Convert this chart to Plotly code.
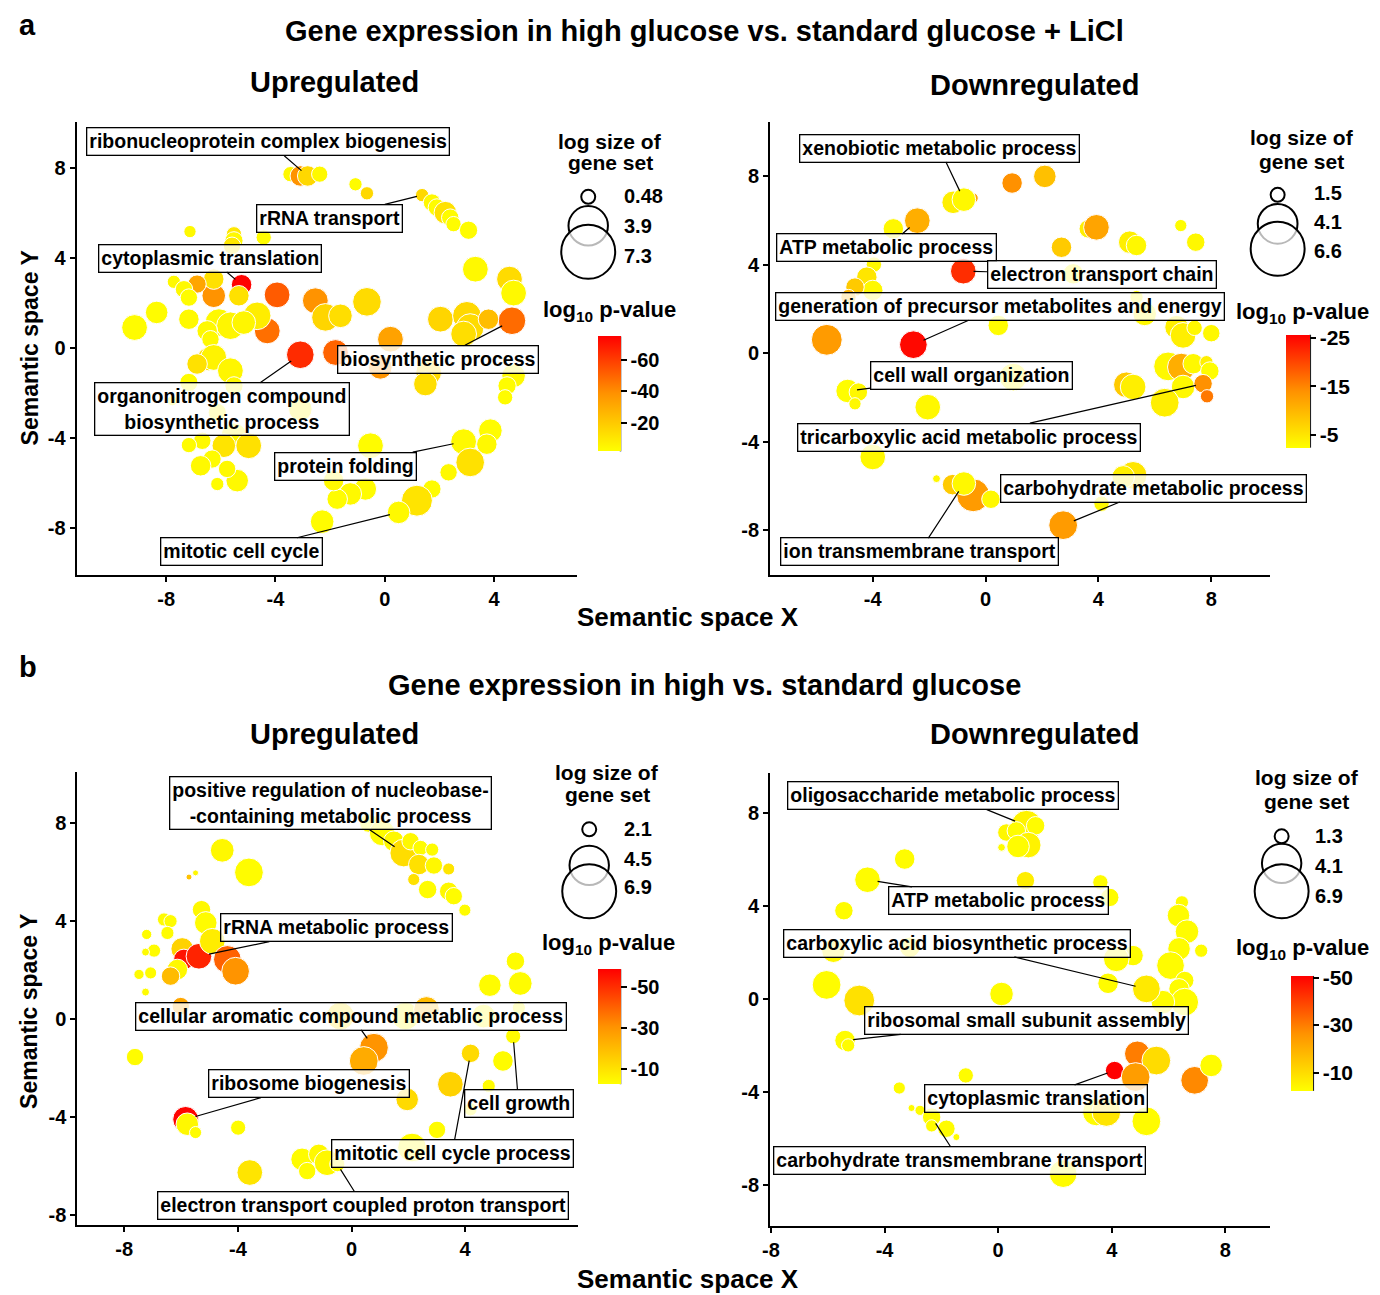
import math
import plotly.graph_objects as go

W, H = 1380, 1295
# observed page placement of the figure inside the photographed window
CX0, CXS = 15.3, 0.995   # horizontal offset / scale
OY = 8                   # vertical offset (body margin)
FW, FH = 1372, 1287
FONT = "Liberation Sans, Arial, Helvetica, sans-serif"

# ---------------- DATA ----------------
# Panel a, Upregulated
aU_x = [-3.45, -3.09, -2.82, -2.38, -1.07, -0.65, 1.37, 1.73, 1.91, 2.22,
        2.4, 2.52, 3.07, -7.13, -5.52, -5.52, -5.59, -4.43, 3.32, 4.57,
        4.72, 4.66, -0.65, -2.54, -2.17, -1.62, -3.94, -4.3, -4.67, -5.24,
        -5.34, -6.26, -6.26, -6.87, -7.72, -7.35, -7.17, -6.07, -5.65, -6.5,
        -7.17, -6.38, -5.16, -8.35, -9.16, -3.09, -1.8, 0.21, -0.16, 2.04,
        3.01, 3.13, 2.89, 3.8, 1.61, 1.49, 4.72, 4.48, 4.41, -6.44,
        -6.26, -6.87, -5.65, -5.52, -7.17, -7.78, -3.09, -6.13, -5.52, -4.98,
        -5.89, -6.68, -7.17, -6.32, -6.74, -5.4, -6.13, -5.77, -0.52, -0.71,
        -1.26, -1.74, -1.87, 3.87, 3.74, 2.89, 3.13, 2.34, 1.73, 1.18,
        0.51, -2.29]
aU_y = [7.71, 7.63, 7.63, 7.71, 7.26, 6.86, 6.78, 6.45, 6.23, 6.0,
        5.78, 5.49, 5.22, 5.16, 5.04, 4.75, 4.53, 4.9, 3.49, 3.05,
        2.43, 1.2, 2.04, 2.09, 1.35, 1.42, 2.35, 0.75, 1.42, 2.8,
        2.31, 2.31, 3.05, 2.83, 2.93, 2.6, 2.23, 1.12, 0.98, 0.75,
        1.27, 0.38, 1.12, 1.57, 0.9, -0.31, -0.21, 0.38, -0.87, 1.27,
        1.42, 0.9, 0.61, 1.27, -1.09, -1.61, -1.24, -1.69, -2.2, -0.5,
        -0.43, -0.72, -1.02, -1.69, -1.54, -2.35, -2.72, -2.87, -3.91, -4.35,
        -4.35, -4.13, -4.32, -4.94, -5.24, -5.9, -6.05, -5.38, -4.35, -6.27,
        -6.49, -6.72, -5.9, -3.68, -4.28, -4.17, -5.09, -5.53, -6.27, -6.79,
        -7.31, -7.72]
aU_size = [1.5, 2.45, 2.45, 1.65, 1.2, 1.2, 1.2, 1.85, 1.85, 2.9,
           1.85, 1.5, 2.0, 1.07, 1.5, 2.0, 1.85, 1.5, 3.7, 3.7,
           3.7, 4.2, 4.5, 3.7, 4.2, 3.15, 3.7, 3.7, 4.2, 2.45,
           2.45, 3.15, 2.45, 2.0, 1.2, 1.85, 1.85, 4.2, 4.2, 2.45,
           2.45, 1.85, 3.15, 2.9, 3.7, 4.2, 3.7, 3.7, 3.15, 3.7,
           4.5, 4.2, 3.7, 2.45, 3.7, 3.15, 3.15, 2.0, 1.5, 3.15,
           3.7, 2.45, 3.7, 2.0, 2.0, 0.83, 3.15, 2.0, 3.7, 3.7,
           3.15, 1.85, 1.5, 2.0, 2.45, 2.9, 1.2, 1.85, 3.7, 2.9,
           2.9, 2.45, 2.45, 3.15, 2.45, 3.7, 4.5, 1.85, 2.0, 5.2,
           2.9, 3.15]
aU_logp = [-4, -38, -15, -4, -3, -15, -15, -4, -3, -12,
           -3, -3, -3, -4, -10, -4, -10, -3, -4, -14,
           -4, -48, -14, -38, -16, -13, -52, -47, -8, -74,
           -12, -38, -12, -32, -4, -4, -3, -4, -5, -4,
           -4, -4, -5, -3, -3, -64, -50, -33, -38, -16,
           -15, -14, -13, -24, -14, -13, -4, -3, -3, -13,
           -6, -12, -5, -4, -3, -3, -5, -4, -4, -12,
           -11, -4, -3, -3, -4, -4, -3, -4, -3, -3,
           -4, -3, -4, -3, -4, -4, -12, -4, -3, -11,
           -4, -3]
aU_terms = ["ribonucleoprotein complex biogenesis", "rRNA transport",
            "cytoplasmic translation", "organonitrogen compound<br>biosynthetic process",
            "biosynthetic process", "protein folding", "mitotic cell cycle"]
aU_term_idx = [2, 6, 29, 45, 21, 85, 90]
aU_xticks = [-8, -4, 0, 4]
aU_size_breaks = [0.48, 3.9, 7.3]
aU_cbar_ticks = [-20, -40, -60]

# Panel a, Downregulated
aD_x = [0.94, 2.1, -1.15, -0.44, -0.77, -2.42, -3.27, 3.64, 3.93, 6.92,
        7.45, 5.11, 5.35, 2.69, -0.79, 3.11, -3.96, -4.21, -4.0, -4.63,
        -4.86, 5.35, 5.64, -5.63, -2.56, 0.45, 6.77, 7.0, 7.41, 8.0,
        6.47, 6.94, 7.36, 7.83, 7.95, 0.98, -4.89, -4.51, -4.63, 4.99,
        5.23, 7.0, 7.71, 7.85, 6.35, -2.05, -4.0, -1.74, -1.17, -0.44,
        -0.77, 0.19, 2.75, 5.23, 4.88, 4.11]
aD_y = [7.68, 7.98, 6.81, 7.0, 6.93, 5.98, 5.61, 5.61, 5.68, 5.76,
        5.01, 5.01, 4.86, 4.78, 3.7, 3.58, 4.0, 3.43, 2.83, 2.98,
        2.53, 2.53, 1.77, 0.6, 0.38, 1.25, 1.17, 0.8, 1.14, 0.9,
        -0.6, -0.63, -0.48, -0.41, -0.81, -1.08, -1.71, -1.76, -2.29, -1.43,
        -1.53, -1.53, -1.38, -1.95, -2.24, -2.44, -4.69, -5.67, -5.94, -6.42,
        -5.89, -6.6, -7.77, -5.52, -5.59, -6.8]
aD_size = [2.97, 3.31, 3.31, 1.76, 3.49, 3.88, 2.97, 2.67, 3.88, 1.94,
           2.67, 3.31, 2.97, 2.97, 3.88, 2.97, 2.27, 2.97, 2.97, 2.67,
           2.27, 2.04, 3.49, 5.0, 4.3, 2.97, 3.49, 3.88, 2.27, 2.53,
           4.53, 4.3, 2.97, 2.04, 2.67, 4.3, 3.49, 2.67, 1.94, 3.88,
           3.88, 3.49, 2.67, 2.04, 4.53, 3.88, 3.88, 1.6, 2.97, 5.5,
           3.49, 2.67, 4.53, 4.3, 3.31, 2.27]
aD_logp = [-14, -9, -4, -12, -3, -11, -3, -4, -12, -2.5,
           -3, -4, -3, -8, -22, -3, -3, -5, -3, -8,
           -10, -3, -3, -13, -25, -2.5, -4, -4, -3, -3,
           -3, -11, -3, -4, -2.5, -3, -2.5, -3, -3, -8,
           -4, -3, -14, -16, -4, -3, -3, -3, -8, -13,
           -3, -3, -13, -5, -4, -3]
aD_terms = ["xenobiotic metabolic process", "ATP metabolic process",
            "electron transport chain", "generation of precursor metabolites and energy",
            "cell wall organization", "tricarboxylic acid metabolic process",
            "carbohydrate metabolic process", "ion transmembrane transport"]
aD_term_idx = [4, 5, 14, 24, 36, 42, 52, 50]
aD_xticks = [-4, 0, 4, 8]
aD_size_breaks = [1.5, 4.1, 6.6]
aD_cbar_ticks = [-5, -15, -25]

# Panel b, Upregulated
bU_x = [0.61, 1.08, 1.49, 1.84, 2.08, 2.43, 2.84, 2.37, 2.9, 2.19,
        3.42, 2.68, 3.42, 3.6, 3.99, -4.55, -3.61, -5.72, -5.49, -5.28,
        -5.13, -6.6, -6.37, -6.48, -7.21, -6.95, -7.25, -5.96, -5.9, -5.37,
        -4.9, -4.37, -4.08, -6.13, -6.37, -7.07, -7.48, -7.25, -6.01, -7.62,
        0.79, 0.43, -0.39, 1.9, 2.64, 5.77, 4.87, 5.94, 4.65, 5.89,
        5.69, 4.19, 5.33, 3.48, 4.83, 1.96, 4.19, 3.01, 2.13, -5.84,
        -5.78, -5.49, -3.99, -1.74, -1.56, -1.15, -0.86, -0.5, -3.58]
bU_y = [7.98, 7.58, 7.24, 6.76, 7.24, 6.97, 6.9, 6.29, 6.25, 5.68,
        6.11, 5.27, 5.2, 5.0, 4.43, 6.87, 5.97, 5.78, 5.95, 4.45,
        3.91, 4.05, 3.98, 3.5, 3.44, 2.78, 2.72, 2.85, 2.42, 2.55,
        3.16, 2.42, 1.94, 2.01, 1.74, 1.87, 1.81, 1.09, 0.52, -1.56,
        -1.18, -1.72, 0.11, 0.11, 0.38, 2.35, 1.37, 1.44, 0.11, 0.45,
        -0.71, -1.41, -1.72, -2.67, -2.74, -3.29, -3.69, -4.53, -5.25, -4.1,
        -4.3, -4.64, -4.44, -5.73, -6.21, -5.53, -5.87, -5.93, -6.27]
bU_size = [3.2, 4.35, 3.5, 4.74, 3.06, 2.8, 2.6, 3.5, 3.06, 2.5,
           2.5, 3.2, 3.2, 3.06, 2.5, 4.0, 4.95, 2.1, 2.1, 3.2,
           3.8, 2.6, 2.6, 2.6, 2.35, 2.6, 2.2, 3.8, 3.5, 4.35,
           4.35, 4.74, 4.74, 3.5, 3.2, 2.5, 2.35, 2.2, 3.06, 3.06,
           4.95, 4.95, 4.74, 4.74, 4.35, 3.2, 3.8, 4.0, 4.0, 2.6,
           2.8, 3.2, 3.5, 4.35, 2.6, 3.8, 2.6, 3.06, 4.95, 4.35,
           3.8, 2.5, 2.8, 3.8, 3.06, 3.5, 4.35, 2.8, 4.35]
bU_logp = [-3, -3, -4, -11, -4, -3, -3, -10, -4, -10,
           -9, -3, -4, -3, -3, -4, -3, -18, -4, -4,
           -3, -3, -3, -3, -3, -3, -3, -14, -55, -52,
           -7, -40, -30, -4, -20, -3, -3, -3, -25, -3,
           -30, -24, -10, -4, -20, -3, -3, -3, -3, -3,
           -3, -12, -3, -14, -3, -12, -3, -3, -3, -58,
           -4, -3, -3, -3, -3, -4, -4, -3, -9]
bU_terms = ["positive regulation of nucleobase-<br>-containing metabolic process",
            "rRNA metabolic process", "cellular aromatic compound metablic process",
            "ribosome biogenesis", "cell growth", "mitotic cell cycle process",
            "electron transport coupled proton transport"]
bU_term_idx = [3, 29, 40, 59, 50, 51, 67]
bU_xticks = [-8, -4, 0, 4, 8]
bU_size_breaks = [2.1, 4.5, 6.9]
bU_cbar_ticks = [-10, -30, -50]

# Panel b, Downregulated
bD_x = [1.0, 1.32, 0.29, 0.64, 1.06, 0.7, 0.12, -3.29, -4.6, 0.96,
        3.6, 3.93, -5.43, 6.47, 6.35, 6.65, 7.15, 6.37, 6.07, 6.57,
        6.37, 6.57, 5.8, 5.22, 4.75, 4.16, 3.87, -5.8, -3.11, -6.04,
        -4.89, 0.12, -5.39, -5.28, 4.9, 5.57, 4.1, 4.84, 6.92, 7.5,
        -1.14, -3.48, 3.46, 3.81, 5.22, -2.75, -3.05, -2.34, -2.34, -1.82,
        -1.47, 2.29]
bD_y = [7.44, 7.44, 7.15, 7.22, 6.61, 6.55, 6.51, 6.01, 5.12, 5.08,
        5.01, 4.36, 3.79, 4.15, 3.58, 2.89, 2.07, 2.15, 1.43, 0.79,
        0.43, -0.14, -0.14, 0.43, 1.86, 1.72, 0.67, 2.07, 2.22, 0.6,
        -0.07, 0.21, -1.79, -2.0, -2.36, -2.65, -3.08, -3.36, -3.5, -2.86,
        -3.29, -3.83, -4.86, -4.86, -5.26, -4.79, -4.69, -5.08, -5.46, -5.58,
        -5.94, -7.51]
bD_size = [5.14, 2.58, 2.43, 2.58, 3.9, 3.29, 1.4, 2.92, 3.9, 2.58,
           2.14, 2.58, 2.58, 1.89, 3.29, 3.49, 1.89, 3.29, 4.38, 2.58,
           2.92, 4.38, 3.49, 4.38, 2.92, 3.9, 2.92, 3.49, 2.92, 4.63,
           5.14, 3.49, 2.92, 1.89, 3.9, 4.63, 2.58, 4.63, 4.38, 3.29,
           2.14, 1.78, 4.38, 4.63, 4.63, 1.59, 1.36, 2.58, 1.78, 2.43,
           1.36, 4.38]
bD_logp = [-5, -3, -4, -3, -5, -3, -3, -3, -3, -6,
           -3, -3, -3, -3, -3, -3, -3, -3, -3, -3,
           -3, -3, -3, -7, -3, -3, -3, -4, -4, -3,
           -9, -3, -3, -3, -30, -10, -52, -24, -28, -3,
           -3, -3, -3, -8, -3, -3, -3, -3, -3, -3,
           -3, -3]
bD_terms = ["oligosaccharide metabolic process", "ATP metabolic process",
            "carboxylic acid biosynthetic process", "ribosomal small subunit assembly",
            "cytoplasmic translation", "carbohydrate transmembrane transport"]
bD_term_idx = [0, 8, 23, 32, 36, 47]
bD_xticks = [-8, -4, 0, 4, 8]
bD_size_breaks = [1.3, 4.1, 6.9]
bD_cbar_ticks = [-10, -30, -50]

y_ticks = [-8, -4, 0, 4, 8]

# ---------------- LAYOUT / STYLE ----------------
def PX(x):
    return ((x - CX0) / CXS) / FW


def PY(y):
    return 1 - (y - OY) / FH


def diam(v, vmin, vmax, dmin=6.0, dmax=37.0):
    t = (v - vmin) / (vmax - vmin)
    t = min(max(t, 0.0), 1.0)
    return math.sqrt(dmin ** 2 + t * (dmax ** 2 - dmin ** 2))


COLORSCALE = [[0.0, "#FFFF00"], [0.5, "#FF9200"], [1.0, "#FF0000"]]

PANELS = [
    dict(s="", x=aU_x, y=aU_y, size=aU_size, logp=aU_logp, terms=aU_terms, idx=aU_term_idx,
         lab=[(-4.27, 9.14), (-2.02, 5.75), (-6.38, 3.98), (-5.95, -2.72), (1.96, -0.5),
              (-1.44, -5.25), (-5.25, -9.05)],
         dx=(76, 577), dy=(122, 575), xr=(-11.28, 7.05), yr=(-10.07, 10.03), xt=aU_xticks,
         breaks=aU_size_breaks, cb_ticks=aU_cbar_ticks, crange=(2.06, 74.7),
         cb=(597.3, 23, 336.7, 115), cb_font=20, cb_title=(609, 311),
         leg_title=(610, 142, 163), leg_cx=588, leg_cy=[197, 226, 252], leg_lx=622,
         leg_ly=[196, 226, 256]),
    dict(s="2", x=aD_x, y=aD_y, size=aD_size, logp=aD_logp, terms=aD_terms, idx=aD_term_idx,
         lab=[(-1.64, 9.25), (-3.51, 4.75), (4.11, 3.55), (0.51, 2.11), (-0.5, -1.01),
              (-0.58, -3.79), (5.96, -6.1), (-2.35, -8.98)],
         dx=(770, 1270), dy=(122, 575), xr=(-7.64, 10.07), yr=(-10.0, 10.44), xt=aD_xticks,
         breaks=aD_size_breaks, cb_ticks=aD_cbar_ticks, crange=(2.3, 25.6),
         cb=(1286.7, 24, 335, 113), cb_font=21, cb_title=(1303, 313),
         leg_title=(1302, 138, 162), leg_cx=1278, leg_cy=[195, 224, 249], leg_lx=1312,
         leg_ly=[193, 222, 251]),
    dict(s="3", x=bU_x, y=bU_y, size=bU_size, logp=bU_logp, terms=bU_terms, idx=bU_term_idx,
         lab=[(-0.74, 8.79), (-0.54, 3.71), (-0.01, 0.11), (-1.5, -2.65), (5.88, -3.46),
              (3.54, -5.49), (0.4, -7.6)],
         dx=(76.7, 578), dy=(772.7, 1225.7), xr=(-9.65, 7.98), yr=(-8.4, 10.06), xt=bU_xticks,
         breaks=bU_size_breaks, cb_ticks=bU_cbar_ticks, crange=(2.3, 58.7),
         cb=(597.3, 23, 970, 115), cb_font=20, cb_title=(608, 945),
         leg_title=(607, 773, 795), leg_cx=589, leg_cy=[830, 866, 892], leg_lx=622,
         leg_ly=[830, 860, 888]),
    dict(s="4", x=bD_x, y=bD_y, size=bD_size, logp=bD_logp, terms=bD_terms, idx=bD_term_idx,
         lab=[(-1.6, 8.73), (0.02, 4.22), (-1.44, 2.4), (1.0, -0.93), (1.33, -4.29),
              (-1.37, -6.94)],
         dx=(770, 1270), dy=(773.3, 1226.7), xr=(-8.03, 9.56), yr=(-9.75, 9.72), xt=bD_xticks,
         breaks=bD_size_breaks, cb_ticks=bD_cbar_ticks, crange=(2.25, 50.7),
         cb=(1291.7, 22, 976.7, 115), cb_font=21, cb_title=(1303, 950),
         leg_title=(1307, 778, 802), leg_cx=1282, leg_cy=[837, 864, 892], leg_lx=1313,
         leg_ly=[837, 867, 897]),
]

fig = go.Figure()
annotations = []
shapes = []
layout_axes = {}


def bold(size):
    return dict(family=FONT, size=size, color="black", weight="bold")


for p in PANELS:
    s = p["s"]
    xa, ya = "x" + s, "y" + s
    vmin, vmax = p["breaks"][0], p["breaks"][-1]
    diams = [diam(v, vmin, vmax) for v in p["size"]]
    cvals = [-v for v in p["logp"]]
    cbx, cbw, cbtop, cblen = p["cb"]
    fig.add_trace(go.Scatter(
        x=p["x"], y=p["y"], mode="markers", xaxis=xa, yaxis=ya,
        hoverinfo="skip",
        marker=dict(size=diams, color=cvals, colorscale=COLORSCALE,
                    cmin=p["crange"][0], cmax=p["crange"][1], opacity=1,
                    line=dict(color="white", width=1),
                    showscale=True,
                    colorbar=dict(x=PX(cbx), xanchor="left", xref="paper",
                                  y=PY(cbtop), yanchor="top", yref="paper",
                                  len=cblen, lenmode="pixels",
                                  thickness=cbw, thicknessmode="pixels",
                                  xpad=0, ypad=0, outlinewidth=0,
                                  tickvals=[-t for t in p["cb_ticks"]],
                                  ticktext=[str(t) for t in p["cb_ticks"]],
                                  ticks="outside", ticklen=6, tickwidth=1.5,
                                  tickcolor="black",
                                  tickfont=bold(p["cb_font"]))),
    ))
    shapes.append(dict(type="line", xref="paper", yref="paper",
                       x0=PX(cbx + cbw), x1=PX(cbx + cbw),
                       y0=PY(cbtop), y1=PY(cbtop + cblen),
                       line=dict(color="#222222", width=1.5)))
    annotations.append(dict(xref="paper", yref="paper", x=PX(p["cb_title"][0]),
                            y=PY(p["cb_title"][1]), xanchor="center", yanchor="middle",
                            text="log<sub>10</sub> p-value", showarrow=False,
                            font=bold(22)))
    lt = p["leg_title"]
    annotations.append(dict(xref="paper", yref="paper", x=PX(lt[0]), y=PY(lt[1]),
                            text="log size of", showarrow=False, xanchor="center",
                            yanchor="middle", font=bold(21)))
    annotations.append(dict(xref="paper", yref="paper", x=PX(lt[0]), y=PY(lt[2]),
                            text="gene set", showarrow=False, xanchor="center",
                            yanchor="middle", font=bold(21)))
    for k, (bv, cy, ly) in enumerate(zip(p["breaks"], p["leg_cy"], p["leg_ly"])):
        r = diam(bv, vmin, vmax, 14.0, 54.0) / 2
        cx = p["leg_cx"]
        fill = "rgba(255,255,255,0.72)" if k == 2 else "rgba(255,255,255,0)"
        shapes.append(dict(type="circle", xref="paper", yref="paper",
                           x0=PX(cx - r), x1=PX(cx + r), y0=PY(cy + r), y1=PY(cy - r),
                           line=dict(color="black", width=2), fillcolor=fill))
        annotations.append(dict(xref="paper", yref="paper", x=PX(p["leg_lx"]), y=PY(ly),
                                text=str(bv), showarrow=False, xanchor="left",
                                yanchor="middle", font=bold(20)))
    for term, i, (lx, ly) in zip(p["terms"], p["idx"], p["lab"]):
        annotations.append(dict(
            xref=xa, yref=ya, axref=xa, ayref=ya,
            x=p["x"][i], y=p["y"][i], ax=lx, ay=ly,
            text=term, showarrow=True, arrowhead=0, arrowwidth=1.2,
            arrowcolor="black", standoff=diams[i] * 0.4,
            bordercolor="black", borderwidth=1.3, borderpad=2,
            bgcolor="rgba(255,255,255,0.78)", font=bold(19.5), align="center"))
    axis_common = dict(showline=True, linecolor="black", linewidth=2, ticks="outside",
                       ticklen=5, tickwidth=1.5, tickcolor="black", showgrid=False,
                       zeroline=False, tickfont=bold(20), fixedrange=True)
    layout_axes["xaxis" + s] = dict(axis_common, domain=[PX(p["dx"][0]), PX(p["dx"][1])],
                                    range=list(p["xr"]), anchor=ya,
                                    tickvals=p["xt"], ticktext=[str(t) for t in p["xt"]])
    layout_axes["yaxis" + s] = dict(axis_common, domain=[PY(p["dy"][1]), PY(p["dy"][0])],
                                    range=list(p["yr"]), anchor=xa,
                                    tickvals=y_ticks, ticktext=[str(t) for t in y_ticks])

TITLES = [
    ("Gene expression in high glucose vs. standard glucose + LiCl", 704, 31, 29),
    ("Upregulated", 334, 82, 29),
    ("Downregulated", 1035, 85, 29),
    ("Semantic space X", 688, 617, 26),
    ("b", 27, 668, 29),
    ("Gene expression in high vs. standard glucose", 704, 686, 29),
    ("Upregulated", 334, 735, 29),
    ("Downregulated", 1035, 735, 29),
    ("Semantic space X", 688, 1280, 26),
]
for txt, x, y, sz in TITLES:
    annotations.append(dict(xref="paper", yref="paper", x=PX(x), y=PY(y), text=txt,
                            showarrow=False, xanchor="center", yanchor="middle",
                            font=bold(sz)))
# panel letter "a": anchored to the top edge of the figure so it is not clipped
annotations.append(dict(xref="paper", yref="paper", x=PX(27), y=1.0, text="a",
                        showarrow=False, xanchor="center", yanchor="top", borderpad=0,
                        font=bold(29)))
for yc in (348, 1012):
    annotations.append(dict(xref="paper", yref="paper", x=PX(29), y=PY(yc),
                            text="Semantic space Y", textangle=-90, showarrow=False,
                            xanchor="center", yanchor="middle", font=bold(23)))

fig.update_layout(width=FW, height=FH, autosize=False,
                  margin=dict(l=0, r=0, t=0, b=0, pad=0),
                  paper_bgcolor="white", plot_bgcolor="white", showlegend=False,
                  annotations=annotations, shapes=shapes, **layout_axes)

fig.write_html("out.html")
